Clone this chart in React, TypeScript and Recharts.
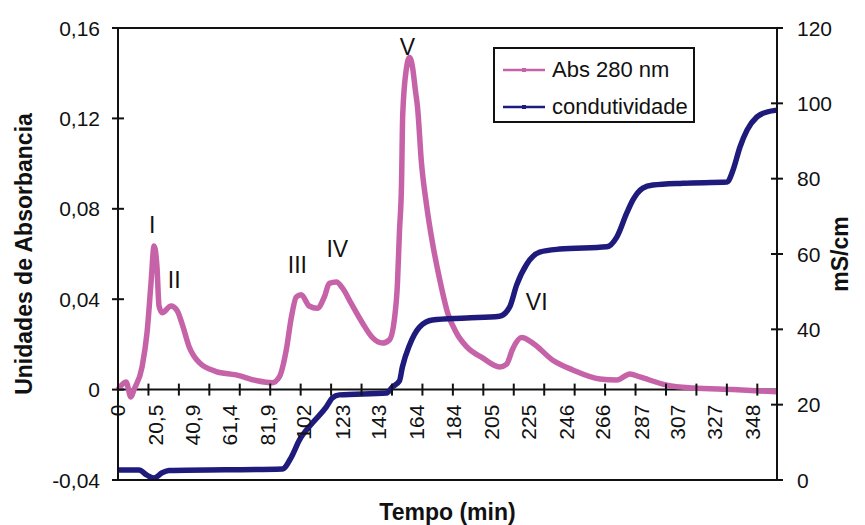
import { LineChart, Line, XAxis, YAxis, ReferenceLine, ReferenceDot, Legend } from 'recharts'

// Abs 280 nm (eixo da esquerda)
const absTempo = [
  0, 4.4, 7.1, 8.8, 13.2, 15.9, 18.1, 19.8, 21.4, 22.5, 24.2, 29.1, 32.4, 35.2, 39.0, 44.5, 53.8, 64.8,
  75.8, 84.6, 88.5, 92.3, 95.1, 97.8, 100.5, 104.9, 109.3, 113.2, 115.9, 119.8, 123.1, 128.0, 134.1,
  139.6, 145.1, 148.9, 151.6, 153.3, 154.4, 155.5, 156.2, 158.2, 159.9, 161.5, 163.2, 164.3, 166.5,
  169.2, 172.5, 176.4, 180.8, 185.7, 191.2, 200.0, 209.3, 213.2, 216.5, 221.4, 227.5, 238.5, 249.5,
  264.3, 273.6, 280.8, 286.3, 301.1, 315.4, 337.4, 361.5,
]
const absValor = [
  0, 0.0034, -0.0033, 0, 0.01, 0.025, 0.047, 0.0635, 0.054, 0.037, 0.034, 0.037, 0.035, 0.029, 0.019,
  0.012, 0.008, 0.0065, 0.004, 0.003, 0.0056, 0.0175, 0.032, 0.041, 0.042, 0.037, 0.036, 0.041, 0.047,
  0.0476, 0.045, 0.038, 0.0295, 0.023, 0.0206, 0.022, 0.031, 0.047, 0.07, 0.09, 0.122, 0.142, 0.147,
  0.143, 0.132, 0.125, 0.1, 0.082, 0.065, 0.049, 0.034, 0.025, 0.019, 0.014, 0.01, 0.0113, 0.018,
  0.023, 0.0206, 0.013, 0.0087, 0.0047, 0.0042, 0.0069, 0.0056, 0.002, 0.0007, 0, -0.001,
]

// condutividade em mS/cm (eixo da direita)
const condTempo = [
  0, 11.5, 15.9, 19.8, 24.2, 28.0, 90.1, 95.1, 99.5, 106.6, 114.3, 117.6, 121.4, 147.3, 150.5, 154.4,
  156.0, 159.9, 165.4, 172.5, 191.2, 209.3, 214.8, 218.7, 224.2, 231.3, 242.3, 268.1, 273.6, 279.1,
  282.4, 287.9, 293.4, 309.9, 334.1, 337.4, 341.2, 345.1, 350.5, 356.0, 361.5,
]
const condValor = [
  2.65, 2.65, 1.3, 0.5, 1.9, 2.5, 2.9, 6.1, 10.6, 15.1, 19.4, 21.8, 22.6, 23.1, 24.7, 26.3, 30.0, 35.8,
  40.6, 42.5, 43.0, 43.5, 45.9, 51.8, 57.3, 60.5, 61.3, 61.9, 64.5, 70.9, 74.3, 77.5, 78.3, 78.8, 79.1,
  82.3, 88.4, 92.9, 96.4, 97.7, 98.2,
]

const tempoLabels = [0, 20.5, 40.9, 61.4, 81.9, 102, 123, 143, 164, 184, 205, 225, 246, 266, 287, 307, 327, 348]
const tempoMarcas = [
  0, 16.7, 33.4, 50.1, 66.8, 83.5, 100.2, 116.9, 133.6, 150.3, 167, 183.7, 200.4, 217.1, 233.8, 250.5,
  267.2, 283.9, 300.6, 317.3, 334, 350.7,
]
const absTicks = [-0.04, 0, 0.04, 0.08, 0.12, 0.16]
const condTicks = [0, 20, 40, 60, 80, 100, 120]

const picos = ['I', 'II', 'III', 'IV', 'V', 'VI']
const picosTempo = [18.7, 30.8, 98.4, 120.3, 158.8, 229.7]
const picosAbs = [0.0728, 0.0485, 0.0552, 0.0622, 0.1516, 0.0388]

const absData = absTempo.map((t, i) => ({ t, v: absValor[i] }))
const condData = condTempo.map((t, i) => ({ t, v: condValor[i] }))

const ROSA = '#c663a8'
const AZUL = '#1f1b7d'
const PRETO = '#111'
const FONTE = '"Liberation Sans", Arial, sans-serif'

const W = 865
const H = 525
const TOP = 28
const LEFT_W = 118
const RIGHT_W = 88
const BOTTOM_H = 45
const PLOT_H = H - TOP - BOTTOM_H
const ABS_MIN = -0.04
const ABS_MAX = 0.16
// distância entre a base do gráfico e a linha do zero
const ZERO_OFFSET = (PLOT_H * (0 - ABS_MIN)) / (ABS_MAX - ABS_MIN)

const virgula = (v: number) => (v === 0 ? '0' : String(v).replace('.', ','))
const fmtAbs = (v: number) => (v === 0 ? '0' : v.toFixed(2).replace('.', ','))

const tempoTicks = Array.from(new Set([...tempoLabels, ...tempoMarcas])).sort((a, b) => a - b)

function TempoTick({ x, y, payload }: any) {
  const v = payload.value
  const y0 = y - ZERO_OFFSET
  const ty = y0 + 15
  return (
    <g>
      {tempoMarcas.includes(v) && (
        <line x1={x} x2={x} y1={y0 - 6} y2={y0 + 6} stroke={PRETO} strokeWidth={2} />
      )}
      {tempoLabels.includes(v) && (
        <text
          x={x}
          y={ty}
          transform={`rotate(-90, ${x}, ${ty})`}
          textAnchor="end"
          dominantBaseline="central"
          fill={PRETO}
          fontSize={21}
          fontFamily={FONTE}
        >
          {virgula(v)}
        </text>
      )}
    </g>
  )
}

function AbsTick({ x, y, payload }: any) {
  return (
    <g>
      <line x1={x - 6} x2={x + 6} y1={y} y2={y} stroke={PRETO} strokeWidth={2} />
      <text x={x - 18} y={y} textAnchor="end" dominantBaseline="central" fill={PRETO} fontSize={21} fontFamily={FONTE}>
        {fmtAbs(payload.value)}
      </text>
    </g>
  )
}

function CondTick({ x, y, payload }: any) {
  return (
    <g>
      <line x1={x - 6} x2={x + 6} y1={y} y2={y} stroke={PRETO} strokeWidth={2} />
      <text x={x + 20} y={y} textAnchor="start" dominantBaseline="central" fill={PRETO} fontSize={21} fontFamily={FONTE}>
        {payload.value}
      </text>
    </g>
  )
}

function Legenda({ payload }: any) {
  return (
    <div
      style={{
        boxSizing: 'border-box',
        width: 202,
        height: 76,
        border: `2px solid ${PRETO}`,
        background: '#fff',
        padding: '2px 0 0 8px',
        fontFamily: FONTE,
        fontSize: 22,
        color: PRETO,
      }}
    >
      {(payload || []).map((item: any) => (
        <div key={item.value} style={{ display: 'flex', alignItems: 'center', height: 37 }}>
          <svg width={42} height={10}>
            <line x1={0} x2={42} y1={5} y2={5} stroke={item.color} strokeWidth={2.5} />
            <rect x={19} y={3} width={4} height={4} fill={item.color} />
          </svg>
          <span style={{ marginLeft: 7, whiteSpace: 'nowrap' }}>{item.value}</span>
        </div>
      ))}
    </div>
  )
}

export default function App() {
  return (
    <div style={{ position: 'absolute', left: 0, top: 0, background: '#fff' }}>
      <LineChart width={W} height={H} margin={{ top: TOP, right: 0, bottom: 0, left: 0 }}>
        <XAxis
          dataKey="t"
          type="number"
          domain={[0, 361.5]}
          ticks={tempoTicks}
          interval={0}
          height={BOTTOM_H}
          tickSize={0}
          tickMargin={0}
          tickLine={false}
          axisLine={{ stroke: PRETO, strokeWidth: 2 }}
          tick={(p: any) => <TempoTick {...p} />}
          label={{
            value: 'Tempo (min)',
            position: 'center',
            dy: 9,
            style: { fontFamily: FONTE, fontSize: 23, fontWeight: 700, fill: PRETO },
          }}
        />
        <YAxis
          yAxisId="abs"
          orientation="left"
          width={LEFT_W}
          domain={[ABS_MIN, ABS_MAX]}
          ticks={absTicks}
          interval={0}
          tickSize={0}
          tickMargin={0}
          tickLine={false}
          axisLine={{ stroke: PRETO, strokeWidth: 2 }}
          tick={(p: any) => <AbsTick {...p} />}
          label={{
            value: 'Unidades de Absorbancia',
            angle: -90,
            position: 'center',
            dx: -35,
            style: { fontFamily: FONTE, fontSize: 23, fontWeight: 700, fill: PRETO },
          }}
        />
        <YAxis
          yAxisId="cond"
          orientation="right"
          width={RIGHT_W}
          domain={[0, 120]}
          ticks={condTicks}
          interval={0}
          tickSize={0}
          tickMargin={0}
          tickLine={false}
          axisLine={{ stroke: PRETO, strokeWidth: 2 }}
          tick={(p: any) => <CondTick {...p} />}
          label={{
            value: 'mS/cm',
            angle: -90,
            position: 'center',
            dx: 19,
            style: { fontFamily: FONTE, fontSize: 23, fontWeight: 700, fill: PRETO },
          }}
        />
        <ReferenceLine yAxisId="abs" y={0} stroke={PRETO} strokeWidth={2} />
        <ReferenceLine yAxisId="abs" y={ABS_MAX} stroke={PRETO} strokeWidth={2} />
        <Line
          data={absData}
          dataKey="v"
          yAxisId="abs"
          name="Abs 280 nm"
          type="monotone"
          stroke={ROSA}
          strokeWidth={5.5}
          dot={false}
          isAnimationActive={false}
        />
        <Line
          data={condData}
          dataKey="v"
          yAxisId="cond"
          name="condutividade"
          type="monotone"
          stroke={AZUL}
          strokeWidth={5.5}
          dot={false}
          isAnimationActive={false}
        />
        {picos.map((nome, i) => (
          <ReferenceDot
            key={nome}
            yAxisId="abs"
            x={picosTempo[i]}
            y={picosAbs[i]}
            r={1}
            fill="none"
            stroke="none"
            label={{
              value: nome,
              position: 'center',
              style: { fontFamily: FONTE, fontSize: 23, fill: PRETO },
            }}
          />
        ))}
        <Legend
          layout="vertical"
          align="center"
          verticalAlign="middle"
          wrapperStyle={{ left: 493, top: 47, width: 202, height: 76 }}
          content={(p: any) => <Legenda {...p} />}
        />
      </LineChart>
    </div>
  )
}
